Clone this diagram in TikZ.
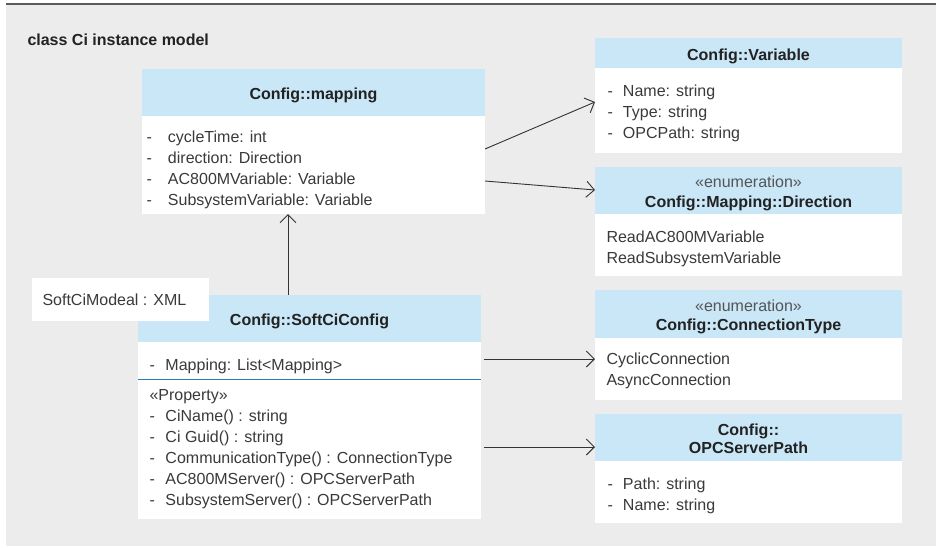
\documentclass[tikz,border=0pt]{standalone}
\usepackage{fontspec}
\setmainfont{Liberation Sans}
\usetikzlibrary{arrows.meta}
\definecolor{bgc}{HTML}{ECECEC}
\definecolor{hdrc}{HTML}{C9E7F6}
\definecolor{linec}{HTML}{5A5A5A}
\definecolor{txtc}{HTML}{3A3A3A}
\definecolor{ttlc}{HTML}{222222}
\definecolor{stc}{HTML}{555555}
\definecolor{sepc}{HTML}{2B7BB9}
\definecolor{arrc}{HTML}{333333}
\newcommand{\fs}{\fontsize{16pt}{21pt}\selectfont}
\newcommand{\dsh}[1]{\makebox[#1][l]{-}}
\tikzset{
  box/.style={inner sep=0pt, outer sep=0pt, anchor=north west},
  hdr/.style={box, fill=hdrc},
  bodyb/.style={box, fill=white},
  txt/.style={inner sep=0pt, outer sep=0pt, anchor=base west, font=\fs, text=txtc},
  ttl/.style={inner sep=0pt, outer sep=0pt, anchor=base, font=\fs\bfseries, text=ttlc},
  stereo/.style={inner sep=0pt, outer sep=0pt, anchor=base, font=\fs, text=stc},
  arr/.style={draw=arrc, line width=0.9pt, -{Straight Barb[length=8pt,width=16pt,line width=0.9pt]}}
}
\begin{document}
\begin{tikzpicture}[x=1pt,y=-1pt]
\useasboundingbox (0,0) rectangle (936,547);
\fill[white] (0,0) rectangle (936,547);
\fill[bgc] (6,4) rectangle (936,546);
\draw[linec, line width=1.6pt] (6,3.8) -- (936,3.8);
\node[txt, font=\fs\bfseries, text=ttlc] (title) at (27.5,45) {class Ci instance model};

% Config::mapping
\node[hdr, minimum width=343pt, minimum height=47pt] (mapH) at (142,69) {};
\node[bodyb, minimum width=343pt, minimum height=98pt] (mapB) at (142,116) {};
\node[ttl] (mapT) at (313.5,99) {Config::mapping};
\foreach \t [count=\i from 0] in {{\dsh{21.5pt}cycleTime: int},{\dsh{21.5pt}direction: Direction},{\dsh{21.5pt}AC800MVariable: Variable},{\dsh{21.5pt}SubsystemVariable: Variable}}
  \node[txt] (mapL\i) at (146.5,{142+21*\i}) {\t};

% Config::Variable
\node[hdr, minimum width=307pt, minimum height=30pt] (varH) at (595,38) {};
\node[bodyb, minimum width=307pt, minimum height=85pt] (varB) at (595,68) {};
\node[ttl] (varT) at (748.5,60) {Config::Variable};
\foreach \t [count=\i from 0] in {{\dsh{15.5pt}Name: string},{\dsh{15.5pt}Type: string},{\dsh{15.5pt}OPCPath: string}}
  \node[txt] (varL\i) at (607.5,{96+21*\i}) {\t};

% Config::Mapping::Direction
\node[hdr, minimum width=307pt, minimum height=47pt] (dirH) at (595,167) {};
\node[bodyb, minimum width=307pt, minimum height=62pt] (dirB) at (595,214) {};
\node[stereo] (dirS) at (748.5,187) {«enumeration»};
\node[ttl] (dirT) at (748.5,207) {Config::Mapping::Direction};
\node[txt] (dirL0) at (606.5,242) {ReadAC800MVariable};
\node[txt] (dirL1) at (606.5,263) {ReadSubsystemVariable};

% Config::ConnectionType
\node[hdr, minimum width=307pt, minimum height=48pt] (ctH) at (595,290) {};
\node[bodyb, minimum width=307pt, minimum height=62pt] (ctB) at (595,338) {};
\node[stereo] (ctS) at (748.5,311.5) {«enumeration»};
\node[ttl] (ctT) at (748.5,330) {Config::ConnectionType};
\node[txt] (ctL0) at (606.5,364) {CyclicConnection};
\node[txt] (ctL1) at (606.5,385.5) {AsyncConnection};

% Config::OPCServerPath
\node[hdr, minimum width=307pt, minimum height=47pt] (opcH) at (595,414) {};
\node[bodyb, minimum width=307pt, minimum height=62pt] (opcB) at (595,461) {};
\node[ttl] (opcT0) at (748.5,435) {Config::};
\node[ttl] (opcT1) at (748.5,453) {OPCServerPath};
\node[txt] (opcL0) at (607.5,489) {\dsh{15.5pt}Path: string};
\node[txt] (opcL1) at (607.5,510) {\dsh{15.5pt}Name: string};

% Config::SoftCiConfig
\node[hdr, minimum width=343pt, minimum height=47pt] (softH) at (138,295) {};
\node[bodyb, minimum width=343pt, minimum height=177pt] (softB) at (138,342) {};
\draw[sepc, line width=0.9pt] (softB.west |- 0,379) -- (softB.east |- 0,379);
\node[ttl] (softT) at (309.5,325.5) {Config::SoftCiConfig};
\node[txt] (softM) at (149.5,370.5) {\dsh{16pt}Mapping: List<Mapping>};
\node[txt] (softP) at (149.5,400) {«Property»};
\foreach \t [count=\i from 0] in {{\dsh{16pt}CiName() : string},{\dsh{16pt}Ci Guid() : string},{\dsh{16pt}CommunicationType() : ConnectionType},{\dsh{16pt}AC800MServer() : OPCServerPath},{\dsh{16pt}SubsystemServer() : OPCServerPath}}
  \node[txt] (softL\i) at (149.5,{421+21.2*\i}) {\t};

% note
\node[bodyb, minimum width=177pt, minimum height=43pt] (note) at (32,278) {};
\node[txt] (noteT) at (42.5,305) {SoftCiModeal : XML};

% connectors
\draw[arr] ([xshift=-21.5pt]softH.north) -- ([xshift=-25.5pt]mapB.south);
\draw[arr] ([yshift=-33pt]mapB.north east) -- ([yshift=-34pt]varB.north west);
\draw[arr] ([yshift=-65pt]mapB.north east) -- ([yshift=-23pt]dirH.north west);
\draw[arr] ([xshift=3pt,yshift=-17pt]softB.north east) -- ([yshift=-21pt]ctB.north west);
\draw[arr] ([xshift=3pt,yshift=-105pt]softB.north east) -- ([yshift=-33pt]opcH.north west);
\end{tikzpicture}
\end{document}
